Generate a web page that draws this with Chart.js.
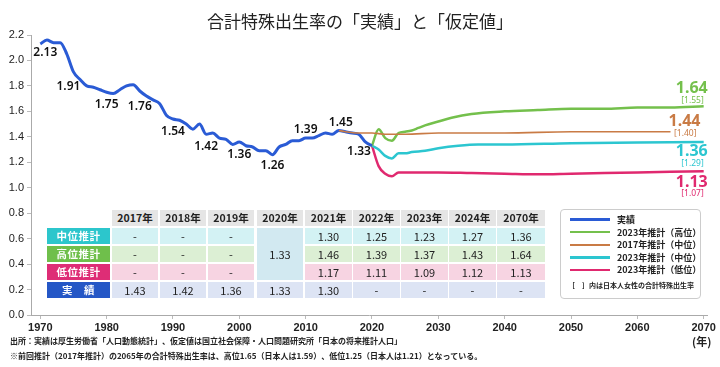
<!DOCTYPE html>
<html>
<head>
<meta charset="utf-8">
<script src="https://cdn.jsdelivr.net/npm/chart.js@4"></script>
<style>
  body { margin: 0; background: #fff; font-family: "Noto Sans CJK JP", "Noto Sans", sans-serif; }
  #wrap { position: relative; width: 720px; height: 367px; overflow: hidden; }
  #title { position: absolute; left: 0; top: 8px; width: 720px; text-align: center; font-size: 17px; color: #222; }
  .cell { position: absolute; height: 16px; line-height: 16px; text-align: center; font-size: 11px; color: #222; }
  .hdr { background: #e5e5e5; font-weight: 600; font-size: 10.5px; }
  .rowlab { color: #fff; font-weight: 700; font-size: 10.5px; letter-spacing: 0.5px; }
  #legend { position: absolute; left: 560px; top: 209px; width: 139px; height: 88px; border: 1px solid #ccc; border-radius: 4px; background: #fff; }
  .lg { position: absolute; left: 9px; font-size: 9px; font-weight: 600; color: #222; height: 12px; line-height: 12px; white-space: nowrap; }
  .lg span { display: inline-block; width: 40px; height: 2.5px; vertical-align: middle; margin-right: 7px; margin-top: -2px; }
  .note { position: absolute; left: 10px; font-size: 8px; font-weight: 600; color: #222; white-space: nowrap; }
</style>
</head>
<body>
<div id="wrap">
  <canvas id="c" width="720" height="367"></canvas>
  <div id="title">合計特殊出生率の「実績」と「仮定値」</div>
  <div id="table"></div>
  <div id="legend"></div>
  <div class="note" style="top:335px;">出所：実績は厚生労働省「人口動態統計」、仮定値は国立社会保障・人口問題研究所「日本の将来推計人口」</div>
  <div class="note" style="top:350px;">※前回推計（2017年推計）の2065年の合計特殊出生率は、高位1.65（日本人は1.59）、低位1.25（日本人は1.21）となっている。</div>
  <div style="position:absolute;left:692px;top:333px;font-size:11px;font-weight:600;color:#222;">(年)</div>
</div>
<script>
// 実績
const actualYears = [1970,1971,1972,1973,1974,1975,1976,1977,1978,1979,1980,1981,1982,1983,1984,1985,1986,1987,1988,1989,
  1990,1991,1992,1993,1994,1995,1996,1997,1998,1999,2000,2001,2002,2003,2004,2005,2006,2007,2008,2009,
  2010,2011,2012,2013,2014,2015,2016,2017,2018,2019,2020];
const actualValues = [2.13,2.16,2.14,2.14,2.05,1.91,1.85,1.80,1.79,1.77,1.75,1.74,1.77,1.80,1.81,1.76,1.72,1.69,1.66,1.57,
  1.54,1.53,1.50,1.46,1.50,1.42,1.43,1.39,1.38,1.34,1.36,1.33,1.32,1.29,1.29,1.26,1.32,1.34,1.37,1.37,
  1.39,1.39,1.41,1.43,1.42,1.45,1.44,1.43,1.42,1.36,1.33];
// labelled years on the actual line
const labelYears = [1970,1975,1980,1985,1990,1995,2000,2005,2010,2015,2020];

// 2023年推計（高位）
const highYears = [2020,2021,2022,2023,2024,2025,2026,2027,2028,2030,2032,2035,2040,2045,2050,2055,2060,2065,2070];
const highValues = [1.33,1.46,1.39,1.37,1.43,1.44,1.45,1.47,1.49,1.52,1.55,1.58,1.60,1.61,1.62,1.62,1.63,1.63,1.64];
// 2023年推計（中位）
const midYears = [2020,2021,2022,2023,2024,2025,2026,2028,2030,2033,2036,2040,2050,2060,2070];
const midValues = [1.33,1.30,1.25,1.23,1.27,1.27,1.28,1.29,1.31,1.33,1.34,1.34,1.35,1.355,1.36];
// 2023年推計（低位）
const lowYears = [2020,2021,2022,2023,2024,2025,2030,2035,2040,2045,2050,2055,2060,2065,2070];
const lowValues = [1.33,1.17,1.11,1.09,1.12,1.12,1.12,1.115,1.11,1.105,1.11,1.115,1.12,1.125,1.13];
// 2017年推計（中位）
const old17Years = [2015,2016,2018,2020,2022,2025,2030,2040,2050,2060,2065];
const old17Values = [1.45,1.44,1.43,1.43,1.42,1.42,1.43,1.43,1.44,1.44,1.44];

// end labels: value and [日本人女性]
const endMain = { high: '1.64', old17: '1.44', mid: '1.36', low: '1.13' };
const endJp = { high: '[1.55]', old17: '[1.40]', mid: '[1.29]', low: '[1.07]' };

const xTicks = [1970,1980,1990,2000,2010,2020,2030,2040,2050,2060,2070];

// table
const tableYears = ['2017年','2018年','2019年','2020年','2021年','2022年','2023年','2024年','2070年'];
const tblMid    = [null,null,null,1.33,1.30,1.25,1.23,1.27,1.36];
const tblHigh   = [null,null,null,1.33,1.46,1.39,1.37,1.43,1.64];
const tblLow    = [null,null,null,1.33,1.17,1.11,1.09,1.12,1.13];
const tblActual = [1.43,1.42,1.36,1.33,1.30,null,null,null,null];

const C_ACT = '#2a5bd5', C_HIGH = '#74c04c', C_OLD = '#c97b45', C_MID = '#2cc6d0', C_LOW = '#e0296f';

function pts(xs, ys) { return xs.map((x, i) => ({ x: x, y: ys[i] })); }

// ---- table ----
const tbl = document.getElementById('table');
const colX = [112,160,208,257,305,353,401,449,497];
const colW = [46,46,46,46,47,47,47,47,48];
const rowY = [228,246,264,282];
function cell(x, y, w, h, txt, cls, bg) {
  const d = document.createElement('div');
  d.className = 'cell ' + (cls || '');
  d.style.left = x + 'px'; d.style.top = y + 'px';
  d.style.width = w + 'px'; d.style.height = h + 'px'; d.style.lineHeight = h + 'px';
  if (bg) d.style.background = bg;
  d.textContent = txt;
  tbl.appendChild(d);
}
tableYears.forEach((t, i) => cell(colX[i], 210, colW[i], 16, t, 'hdr'));
const rows = [
  { lab: '中位推計', c: '#2cc6cc', bg: '#d3f2f4', v: tblMid },
  { lab: '高位推計', c: '#6fbf4b', bg: '#dcefd4', v: tblHigh },
  { lab: '低位推計', c: '#de2d76', bg: '#f7d4e2', v: tblLow },
  { lab: '実　績', c: '#2557c6', bg: '#dde4f4', v: tblActual }
];
rows.forEach((r, ri) => {
  cell(47, rowY[ri], 63, 16, r.lab, 'rowlab', r.c);
  r.v.forEach((v, ci) => {
    if (ci === 3 && ri < 3) return;
    cell(colX[ci], rowY[ri], colW[ci], 16, v === null ? '-' : v.toFixed(2), '', r.bg);
  });
});
cell(colX[3], rowY[0], colW[3], 52, tblMid[3].toFixed(2), '', '#d2e9f1');

// ---- legend ----
const lg = document.getElementById('legend');
[['実績', C_ACT, 3], ['2023年推計（高位）', C_HIGH, 2], ['2017年推計（中位）', C_OLD, 2], ['2023年推計（中位）', C_MID, 2.5], ['2023年推計（低位）', C_LOW, 2.5]]
  .forEach((it, i) => {
    const d = document.createElement('div');
    d.className = 'lg';
    d.style.top = (4 + i * 12.6) + 'px';
    d.innerHTML = '<span style="background:' + it[1] + ';height:' + it[2] + 'px"></span>' + it[0];
    lg.appendChild(d);
  });
const nt = document.createElement('div');
nt.className = 'lg';
nt.style.top = '69px'; nt.style.left = '7px'; nt.style.fontSize = '7px';
nt.textContent = '［　］内は日本人女性の合計特殊出生率';
lg.appendChild(nt);

// ---- labels plugin ----
const labelPlugin = {
  id: 'labels',
  afterDatasetsDraw(chart) {
    const ctx = chart.ctx, xs = chart.scales.x, ys = chart.scales.y;
    ctx.save();
    ctx.fillStyle = '#111';
    ctx.font = '600 12px "Noto Sans", sans-serif';
    ctx.textBaseline = 'middle';
    labelYears.forEach(yr => {
      const v = actualValues[actualYears.indexOf(yr)];
      const px = xs.getPixelForValue(yr), py = ys.getPixelForValue(v);
      let dx = 0, dy = 12, al = 'center';
      if (yr === 1970) { dx = 5; dy = 9; }
      if (yr === 1975) { dx = -5; dy = 15; }
      if (yr === 1985) dy = 16;
      if (yr === 1990) dy = 13;
      if (yr === 2000) dy = 13;
      if (yr === 2005) dy = 11;
      if (yr === 2010) dy = -9;
      if (yr === 2015) { dx = 2; dy = -8; }
      if (yr === 2020) { dx = -1; dy = 6; al = 'right'; }
      ctx.textAlign = al;
      ctx.fillText(v.toFixed(2), px + dx, py + dy);
    });
    // end labels
    const ends = [
      { k: 'high', c: C_HIGH, x: highYears[highYears.length - 1], y: highValues[highValues.length - 1], dx: 4, dy1: -18, dy2: -6 },
      { k: 'old17', c: C_OLD, x: old17Years[old17Years.length - 1], y: old17Values[old17Values.length - 1], dx: 30, dy1: -10, dy2: 2 },
      { k: 'mid', c: C_MID, x: midYears[midYears.length - 1], y: midValues[midValues.length - 1], dx: 4, dy1: 10, dy2: 22 },
      { k: 'low', c: C_LOW, x: lowYears[lowYears.length - 1], y: lowValues[lowValues.length - 1], dx: 4, dy1: 11, dy2: 22 }
    ];
    ctx.textAlign = 'right';
    ends.forEach(e => {
      const px = xs.getPixelForValue(e.x), py = ys.getPixelForValue(e.y);
      ctx.fillStyle = e.c;
      ctx.font = 'bold 16px "Noto Sans", sans-serif';
      ctx.fillText(endMain[e.k], px + e.dx, py + e.dy1);
      ctx.font = '8.5px "Noto Sans", sans-serif';
      ctx.fillText(endJp[e.k], px + e.dx - 4, py + e.dy2);
    });
    ctx.restore();
  }
};

const lineDs = (label, data, color, w, order) => ({
  label: label, data: data, borderColor: color, backgroundColor: color,
  borderWidth: w, pointRadius: 0, fill: false, order: order,
  cubicInterpolationMode: 'monotone'
});

new Chart(document.getElementById('c'), {
  type: 'line',
  data: {
    datasets: [
      lineDs('2017年推計（中位）', pts(old17Years, old17Values), C_OLD, 1.6, 0),
      lineDs('実績', pts(actualYears, actualValues), C_ACT, 3, 1),
      lineDs('2023年推計（高位）', pts(highYears, highValues), C_HIGH, 2.5, 2),
      lineDs('2023年推計（中位）', pts(midYears, midValues), C_MID, 2.5, 3),
      lineDs('2023年推計（低位）', pts(lowYears, lowValues), C_LOW, 2.5, 4)
    ]
  },
  options: {
    responsive: false,
    animation: false,
    layout: { padding: { top: 35, right: 13, bottom: 32, left: 0 } },
    plugins: { legend: { display: false }, tooltip: { enabled: false } },
    scales: {
      x: {
        type: 'linear', min: 1968.6, max: 2070.5,
        afterBuildTicks: s => { s.ticks = xTicks.map(v => ({ value: v })); },
        afterFit: s => { s.height = 20; },
        ticks: { color: '#222', font: { size: 11, weight: '600' }, padding: 2, maxRotation: 0, autoSkip: false, callback: v => v },
        grid: { drawOnChartArea: false, tickLength: 4, color: '#bbb' },
        border: { color: '#aaa' }
      },
      y: {
        min: 0, max: 2.2,
        afterFit: s => { s.width = 31; },
        ticks: { stepSize: 0.2, color: '#222', font: { size: 11 }, padding: 3, callback: v => v.toFixed(1) },
        grid: { drawOnChartArea: false, tickLength: 4, color: '#bbb' },
        border: { color: '#aaa' }
      }
    }
  },
  plugins: [labelPlugin]
});
</script>
</body>
</html>
